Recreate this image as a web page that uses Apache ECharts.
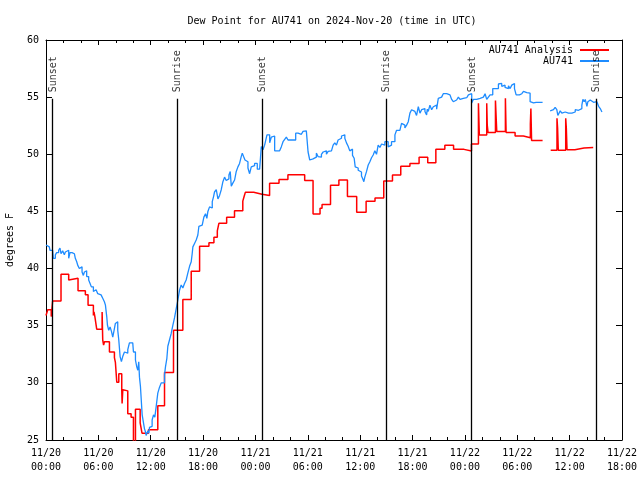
<!DOCTYPE html>
<html><head><meta charset="utf-8">
<script src="https://cdn.jsdelivr.net/npm/echarts@6/dist/echarts.min.js"></script>
<style>html,body{margin:0;padding:0;background:#fff}#c{width:640px;height:480px}</style>
</head><body><div id="c"></div>
<script>
// hours since 2024-11-20 00:00 UTC
const xTickLabels = ['11/20\n00:00','11/20\n06:00','11/20\n12:00','11/20\n18:00',
  '11/21\n00:00','11/21\n06:00','11/21\n12:00','11/21\n18:00',
  '11/22\n00:00','11/22\n06:00','11/22\n12:00','11/22\n18:00'];

const eventHours = [0.76, 15.0, 24.75, 38.99, 48.75, 63.0];
const eventNames = ['Sunset','Sunrise','Sunset','Sunrise','Sunset','Sunrise'];

const blueHours = [
  0,0.19,0.38,0.46,0.76,0.84,1.07,1.22,1.45,1.6,1.72,1.91,2.1,2.22,2.37,2.6,2.75,2.98,3.13,3.25,
  3.36,3.52,3.63,3.82,4.01,4.13,4.28,4.4,4.51,4.66,4.89,5.05,5.2,5.43,5.58,5.74,5.93,6.12,6.31,6.5,
  6.69,6.81,6.96,7.04,7.19,7.34,7.5,7.65,7.8,7.95,8.11,8.22,8.34,8.49,8.64,8.79,8.99,9.18,9.37,9.56,
  9.94,10.02,10.25,10.4,10.52,10.63,10.71,10.82,10.94,11.02,11.17,11.28,11.4,11.47,11.55,11.67,11.78,11.86,12.01,12.16,
  12.32,12.47,12.62,12.81,13.0,13.2,13.39,13.58,13.69,13.85,13.96,14.15,14.34,14.54,14.73,14.92,
  15.11,15.3,15.49,15.68,15.87,16.06,16.25,16.45,16.64,16.75,16.83,17.02,17.21,17.4,17.52,17.71,17.9,18.09,18.28,18.43,
  18.55,18.74,18.93,19.05,19.2,19.31,19.51,19.7,19.89,20.08,20.27,20.46,20.65,20.84,20.96,21.11,21.23,21.42,21.61,21.8,
  21.99,22.18,22.37,22.49,22.64,22.8,22.95,23.14,23.33,23.52,23.71,23.9,24.1,24.21,24.48,24.67,24.86,25.05,25.24,25.32,
  25.47,25.63,25.82,26.01,26.2,26.39,26.77,26.97,27.16,27.35,27.54,27.73,27.92,28.38,28.61,28.88,29.07,29.26,29.45,29.64,
  29.83,29.95,30.03,30.22,30.41,30.6,30.79,30.98,31.17,31.37,31.56,31.75,31.94,32.13,32.33,32.52,32.71,32.9,33.09,33.28,
  33.47,33.67,33.86,34.05,34.24,34.43,34.62,34.81,35.0,35.12,35.31,35.43,35.58,35.77,35.96,36.15,36.27,36.42,36.53,36.73,
  36.92,37.11,37.3,37.49,37.68,37.87,38.06,38.26,38.45,38.64,38.83,39.02,39.21,39.4,39.59,39.79,39.98,40.17,40.36,40.55,
  40.74,40.93,41.12,41.32,41.51,41.7,41.89,42.08,42.27,42.46,42.66,42.85,43.04,43.23,43.42,43.61,43.69,43.8,43.99,44.19,
  44.38,44.57,44.76,44.95,45.14,45.33,45.52,45.72,45.91,46.1,46.29,46.48,46.67,46.86,47.05,47.25,47.44,47.63,47.82,48.01,
  48.21,48.4,48.59,48.78,48.97,49.16,49.35,49.54,49.74,49.93,50.12,50.31,50.5,50.69,50.88,51.07,51.19,51.46,51.65,51.84,
  52.03,52.22,52.41,52.6,52.8,52.99,53.18,53.37,53.56,53.68,53.87,54.02,54.25,54.52,54.71,54.9,55.09,55.28,55.47,55.66,
  55.86,56.16,56.9,
  57.77,57.96,58.15,58.34,58.53,58.65,58.84,58.92,59.11,59.3,59.49,59.68,59.87,60.06,60.26,60.45,60.64,60.83,61.02,61.21,
  61.4,61.52,61.67,61.79,61.9,61.98,62.09,62.21,62.36,62.55,62.74,62.93,63.12,63.32,63.51,63.7
];
const blueValues = [
  42.06,41.9,42.0,41.6,41.5,40.9,41.2,41.4,41.6,41.8,41.3,41.55,41.2,41.45,41.6,40.9,41.4,41.5,41.3,41.4,
  40.9,40.6,40.3,40.0,40.15,39.7,39.4,39.7,39.8,39.3,39.0,38.7,38.4,38.0,38.15,38.3,37.8,37.7,37.7,37.4,
  37.1,36.8,35.8,35.06,34.6,34.9,34.5,34.0,34.6,35.2,35.35,34.6,33.75,32.3,31.85,32.3,32.7,32.6,32.9,33.5,
  33.5,32.7,32.0,31.4,31.1,31.85,30.5,29.7,28.2,27.2,26.5,26.0,25.7,25.4,25.3,25.8,25.6,26.1,26.2,26.75,
  27.2,27.0,27.9,29.1,29.6,30.0,30.0,30.7,31.4,32.15,33.2,33.75,34.3,35.06,35.7,36.5,
  37.25,38.1,38.56,38.3,38.7,39.0,39.6,40.2,40.6,41.3,41.9,42.2,42.5,42.94,43.7,43.8,43.7,44.5,44.8,44.4,
  45.0,45.4,45.3,45.85,46.3,46.7,46.9,46.1,46.4,46.9,47.6,48.0,47.7,47.85,48.2,48.5,47.2,47.5,47.75,48.5,
  48.9,49.2,49.8,50.1,49.8,49.5,49.35,48.8,48.3,48.9,49.0,49.2,49.2,48.7,48.8,50.67,50.4,50.8,50.9,51.7,
  51.7,51.0,51.5,51.6,50.3,50.3,50.3,50.67,51.1,51.3,51.5,51.25,51.25,51.25,51.85,51.9,51.75,51.85,52.0,52.05,
  52.2,52.2,50.2,49.5,49.6,49.6,49.75,50.1,49.8,49.75,50.0,50.2,50.3,50.0,50.25,50.3,50.45,50.8,51.0,50.8,
  51.25,51.4,51.6,51.7,51.4,51.0,50.7,50.3,50.45,49.9,49.65,48.9,48.8,48.6,48.45,48.1,47.9,47.6,48.0,48.5,
  49.06,49.35,49.7,49.94,50.3,50.0,50.8,50.6,50.9,50.8,51.1,51.1,50.65,50.8,51.1,51.1,51.7,52.1,52.1,51.95,
  52.7,52.55,52.3,52.55,52.85,53.6,53.9,53.75,53.6,53.4,54.16,53.6,53.9,54.0,53.75,53.45,53.95,53.75,54.3,53.9,
  54.16,54.3,53.95,54.9,55.0,55.05,55.3,55.3,55.3,55.2,55.1,54.8,54.6,54.75,54.9,55.0,54.8,54.9,55.0,54.95,
  55.0,55.2,55.3,54.5,54.8,54.8,54.9,54.9,54.8,55.0,55.0,55.3,54.8,55.0,55.2,55.2,55.75,55.9,55.75,56.15,
  56.2,55.95,56.05,55.85,55.75,56.0,55.75,56.05,56.2,55.75,55.2,55.2,55.3,55.3,55.5,55.4,55.5,55.35,54.6,54.5,
  54.55,54.55,null,
  53.8,53.9,54.0,54.1,53.9,53.4,53.55,53.8,53.6,53.7,53.55,53.6,53.7,53.6,53.6,53.7,53.9,53.85,53.9,54.0,
  54.3,54.8,54.6,54.8,54.45,54.2,54.6,54.75,54.6,54.55,54.7,54.6,54.45,54.2,54.0,53.7
];

const redHours = [
  0,0.2,0.6,0.76,1.72,2.6,2.65,3.67,4.51,4.82,5.43,5.5,5.6,5.81,6.43,6.5,6.6,6.7,7.27,7.84,
  7.95,8.11,8.34,8.68,8.72,8.8,8.87,9.37,9.75,10.02,10.25,10.79,11.0,11.74,12.81,13.58,14.61,15.68,16.64,17.6,
  18.67,19.24,19.63,19.81,20.7,21.6,22.55,22.7,22.84,23.8,24.75,25.62,26.7,27.72,29.64,30.6,31.4,31.63,32.6,33.56,
  34.54,35.6,36.68,37.7,38.7,39.7,40.65,41.7,42.75,43.74,44.67,45.7,46.7,47.9,48.75,49.55,49.65,50.5,50.56,50.65,
  51.5,51.57,51.65,52.64,52.72,53.75,54.7,55.5,55.56,55.64,56.13,56.9,
  57.83,58.55,58.62,58.7,59.55,59.62,59.7,60.6,61.65,62.7
];
const redValues = [
  35.9,36.4,35.8,37.16,39.5,39.0,39.15,38.06,37.7,36.8,35.9,36.2,35.8,34.7,36.2,33.75,33.3,33.6,32.7,32.2,
  31.8,30.05,30.8,29.4,28.2,29.4,29.3,27.3,27.0,24.5,27.7,26.5,25.6,25.9,28.0,30.9,34.6,37.3,39.76,41.96,
  42.27,42.73,43.3,43.96,44.48,45.07,45.9,46.3,46.67,46.5,46.4,47.46,47.8,48.2,47.7,44.78,45.27,45.6,47.28,47.75,
  46.3,44.92,45.88,46.18,47.66,48.19,48.95,49.2,49.73,49.26,50.43,50.78,50.43,50.29,50.9,54.46,51.69,54.46,52.56,51.9,
  54.7,53.4,52.0,54.9,51.9,51.6,51.45,52.65,54.0,51.2,51.2,null,
  50.35,53.15,52.3,50.35,53.15,52.3,50.4,50.55,50.6,50.6
];

const FONT = 'DejaVu Sans Mono';
const eventTop = 54.85;

const chart = echarts.init(document.getElementById('c'), null, {renderer: 'canvas'});
const zip = (a, b) => a.map((h, i) => [h, b[i]]);

const axisCommon = {
  type: 'value',
  axisLine: {show: true, onZero: false, lineStyle: {color: '#000', width: 1}},
  axisTick: {show: true, inside: true, length: 5, lineStyle: {color: '#000'}},
  splitLine: {show: false}
};

chart.setOption({
  animation: false,
  backgroundColor: '#fff',
  title: {
    text: 'Dew Point for AU741 on 2024-Nov-20 (time in UTC)',
    left: 327, top: 11, textAlign: 'center',
    textStyle: {fontFamily: FONT, fontSize: 10, fontWeight: 'normal', color: '#000'}
  },
  legend: {
    data: ['AU741 Analysis', 'AU741'],
    orient: 'vertical', align: 'right', right: 30, top: 45, padding: 0,
    itemWidth: 29, itemHeight: 12, itemGap: 1,
    itemStyle: {opacity: 0, borderWidth: 0},
    textStyle: {fontFamily: FONT, fontSize: 10, color: '#000', padding: [0, 2, 0, 0]}
  },
  grid: {left: 46, right: 18, top: 40, bottom: 40, containLabel: false, outerBoundsMode: 'none'},
  xAxis: [
    Object.assign({}, axisCommon, {
      min: 0, max: 66, interval: 6, position: 'bottom',
      minorTick: {show: true, splitNumber: 3, length: 3, lineStyle: {color: '#000'}},
      axisLabel: {show: true, margin: 6, fontFamily: FONT, fontSize: 10, color: '#000', lineHeight: 14,
        showMinLabel: true, showMaxLabel: true,
        formatter: v => xTickLabels[Math.round(v / 6)]}
    }),
    Object.assign({}, axisCommon, {
      min: 0, max: 66, interval: 6, position: 'top',
      minorTick: {show: true, splitNumber: 3, length: 3, lineStyle: {color: '#000'}},
      axisLabel: {show: false}
    })
  ],
  yAxis: [
    Object.assign({}, axisCommon, {
      min: 25, max: 60, interval: 5, position: 'left',
      axisTick: {show: true, inside: true, length: 6, lineStyle: {color: '#000'}},
      axisLabel: {show: true, margin: 7, fontFamily: FONT, fontSize: 10, color: '#000'},
      name: 'degrees F', nameLocation: 'middle', nameGap: 31, nameRotate: 90,
      nameTextStyle: {fontFamily: FONT, fontSize: 10, color: '#000'}
    }),
    Object.assign({}, axisCommon, {
      min: 25, max: 60, interval: 5, position: 'right',
      axisTick: {show: true, inside: true, length: 6, lineStyle: {color: '#000'}},
      axisLabel: {show: false}
    })
  ],
  series: [
    {
      name: 'AU741 Analysis', type: 'line', step: 'end', symbol: 'none', clip: true,
      xAxisIndex: 0, yAxisIndex: 0, z: 3,
      lineStyle: {color: '#ff0000', width: 1.5}, itemStyle: {color: '#ff0000'},
      data: zip(redHours, redValues)
    },
    {
      name: 'AU741', type: 'line', step: 'end', symbol: 'none', clip: true,
      xAxisIndex: 0, yAxisIndex: 0, z: 4,
      lineStyle: {color: '#1e8cff', width: 1.3}, itemStyle: {color: '#1e8cff'},
      data: zip(blueHours, blueValues)
    },
    {
      name: 'events', type: 'scatter', xAxisIndex: 0, yAxisIndex: 0, silent: true, z: 5,
      symbolSize: 1, itemStyle: {color: 'rgba(0,0,0,0)'},
      data: eventHours.map((h, i) => ({value: [h, eventTop], name: eventNames[i]})),
      label: {show: true, formatter: p => p.name, rotate: 90, position: [1, -6],
        align: 'left', verticalAlign: 'middle', fontFamily: FONT, fontSize: 10, color: '#000'},
      markLine: {
        silent: true, symbol: ['none', 'none'], label: {show: false},
        lineStyle: {color: '#000', width: 1.3, type: 'solid'},
        emphasis: {disabled: true},
        data: eventHours.map(h => [{coord: [h, 25]}, {coord: [h, eventTop]}])
      }
    }
  ]
});
</script>
</body></html>
